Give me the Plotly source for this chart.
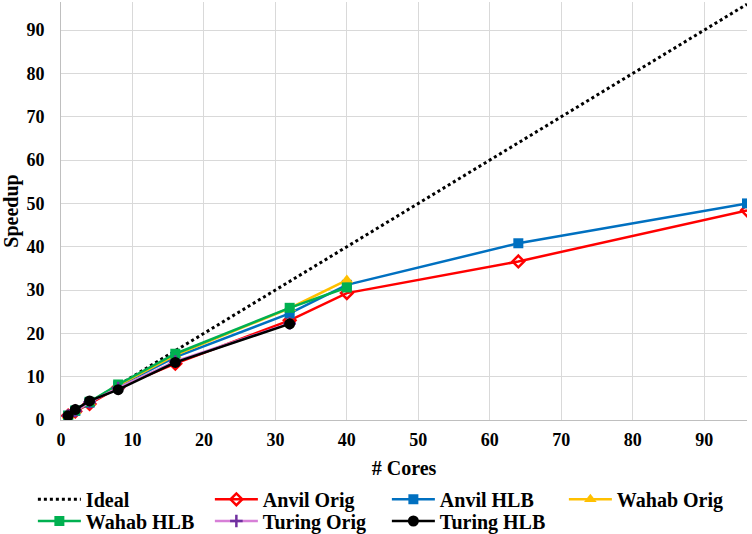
import plotly.graph_objects as go

cores = [1, 2, 4, 8, 16, 32, 40, 64, 96]
ideal = [1, 2, 4, 8, 16, 32, 40, 64, 96]
anvil_orig = [1.0, 2.0, 3.7, 7.5, 13.0, 23.0, 29.3, 36.6, 48.4]
anvil_hlb = [1.0, 2.1, 4.0, 7.8, 14.5, 24.6, 31.2, 40.8, 50.0]
wahab_orig_x = [1, 2, 4, 8, 16, 32, 40]
wahab_orig = [1.0, 2.1, 4.1, 8.0, 15.0, 25.8, 32.3]
wahab_hlb_x = [1, 2, 4, 8, 16, 32, 40]
wahab_hlb = [1.0, 2.2, 4.2, 8.2, 15.3, 25.9, 30.6]
turing_orig_x = [1, 2, 4, 8, 16, 32]
turing_orig = [1.0, 2.1, 4.1, 7.4, 13.5, 22.3]
turing_hlb_x = [1, 2, 4, 8, 16, 32]
turing_hlb = [1.0, 2.4, 4.4, 7.0, 13.3, 22.2]

fig = go.Figure()
fig.add_trace(go.Scatter(x=cores, y=ideal, name="Ideal", mode="lines", legend="legend",
                         line=dict(color="black", width=3, dash="dot")))
fig.add_trace(go.Scatter(x=cores, y=anvil_orig, name="Anvil Orig", mode="lines+markers", legend="legend",
                         line=dict(color="#FF0000", width=2.5),
                         marker=dict(symbol="diamond-open", size=9, color="#FF0000", line=dict(width=2.5))))
fig.add_trace(go.Scatter(x=cores, y=anvil_hlb, name="Anvil HLB", mode="lines+markers", legend="legend",
                         line=dict(color="#0070C0", width=2.5),
                         marker=dict(symbol="square", size=10, color="#0070C0")))
fig.add_trace(go.Scatter(x=wahab_orig_x, y=wahab_orig, name="Wahab Orig", mode="lines+markers", legend="legend",
                         line=dict(color="#FFC000", width=2.5),
                         marker=dict(symbol="triangle-up", size=11, color="#FFC000")))
fig.add_trace(go.Scatter(x=wahab_hlb_x, y=wahab_hlb, name="Wahab HLB", mode="lines+markers", legend="legend2",
                         line=dict(color="#00B050", width=2.5),
                         marker=dict(symbol="square", size=10, color="#00B050")))
fig.add_trace(go.Scatter(x=turing_orig_x, y=turing_orig, name="Turing Orig", mode="lines+markers", legend="legend2",
                         line=dict(color="#D77FD7", width=2.5),
                         marker=dict(symbol="cross-thin", size=9, color="#7030A0", line=dict(width=2.5, color="#7030A0"))))
fig.add_trace(go.Scatter(x=turing_hlb_x, y=turing_hlb, name="Turing HLB", mode="lines+markers", legend="legend2",
                         line=dict(color="black", width=2.5),
                         marker=dict(symbol="circle", size=11, color="black")))

font_family = "Liberation Serif, DejaVu Serif, Times New Roman, serif"
legend_common = dict(orientation="h", xanchor="left", yanchor="top",
                     entrywidth=119, entrywidthmode="pixels", itemwidth=43,
                     font=dict(family=font_family, size=20, color="black", weight="bold"),
                     tracegroupgap=0, traceorder="normal", bgcolor="rgba(0,0,0,0)")
fig.update_layout(
    width=752, height=534,
    margin=dict(l=61, r=5, t=2, b=114, autoexpand=False),
    paper_bgcolor="white", plot_bgcolor="white",
    font=dict(family=font_family, size=18, color="black"),
    xaxis=dict(range=[0, 96], tickvals=[0, 10, 20, 30, 40, 50, 60, 70, 80, 90],
               showgrid=True, gridcolor="#D9D9D9", gridwidth=1,
               showline=True, linecolor="#BFBFBF", linewidth=1, zeroline=False,
               ticklabelstandoff=3,
               tickfont=dict(family=font_family, size=18, color="black", weight="bold"),
               title=dict(text="<b># Cores</b>", font=dict(family=font_family, size=20), standoff=12)),
    yaxis=dict(range=[0, 96.5], tickvals=[0, 10, 20, 30, 40, 50, 60, 70, 80, 90],
               showgrid=True, gridcolor="#D9D9D9", gridwidth=1,
               showline=True, linecolor="#BFBFBF", linewidth=1, zeroline=False,
               tickfont=dict(family=font_family, size=18, color="black", weight="bold"),
               ticklabelstandoff=12,
               title=dict(text="<b>Speedup</b>", font=dict(family=font_family, size=20), standoff=8)),
    legend=dict(x=-0.041, y=-0.143, **legend_common),
    legend2=dict(x=-0.041, y=-0.195, **legend_common),
    showlegend=True,
)

fig.write_html("out.html")
